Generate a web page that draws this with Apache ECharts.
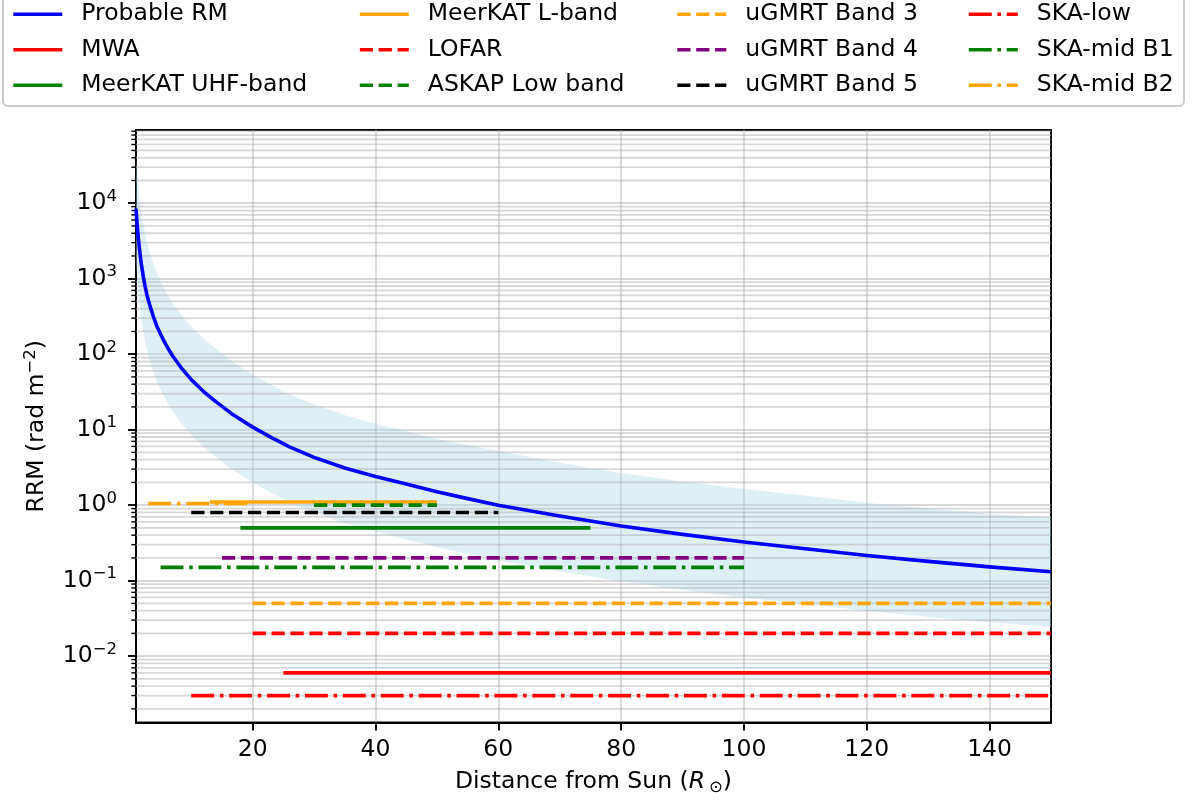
<!DOCTYPE html>
<html>
<head>
<meta charset="utf-8">
<script src="https://cdn.jsdelivr.net/npm/echarts@6/dist/echarts.min.js"></script>
<style>
  html, body { margin: 0; padding: 0; background: #fff; }
  #main { width: 1192px; height: 803px; }
</style>
</head>
<body>
<div id="main"></div>
<script>
// values
var distance   = [1, 1.1, 1.2, 1.3, 1.4, 1.55, 1.7, 1.9, 2.2, 2.5, 2.8, 3.3, 3.8, 4.4, 5, 5.5, 6.2, 7, 8.3, 10, 12, 14, 16.5, 20, 23, 26, 30, 35, 40, 45, 50, 55, 60, 70, 80, 90, 100, 110, 120, 130, 140, 150];
var rmProbable = [8500, 6500, 5050, 4050, 3300, 2550, 2000, 1500, 1050, 780, 600, 430, 320, 235, 185, 152, 120, 94, 67, 46, 32, 23.5, 16.4, 10.8, 7.9, 5.9, 4.3, 3.1, 2.4, 1.9, 1.5, 1.22, 1.0, 0.72, 0.53, 0.41, 0.325, 0.265, 0.215, 0.18, 0.152, 0.131];
var rmUpper    = [42000, 32500, 25200, 20200, 16500, 12700, 10000, 7500, 5250, 3900, 3000, 2150, 1600, 1180, 925, 760, 600, 470, 335, 230, 160, 118, 82, 54, 39.5, 29.5, 21.5, 15.5, 12, 9.5, 7.5, 6.2, 5.2, 3.65, 2.65, 2.05, 1.64, 1.33, 1.08, 0.9, 0.77, 0.68];
var rmLower    = [1570, 1200, 935, 750, 610, 470, 370, 278, 194, 144, 111, 80, 59, 43.5, 34.3, 28.1, 22.2, 17.4, 12.4, 8.5, 5.9, 4.35, 3.04, 2.0, 1.46, 1.09, 0.8, 0.574, 0.444, 0.352, 0.278, 0.226, 0.185, 0.133, 0.098, 0.076, 0.06, 0.049, 0.04, 0.033, 0.028, 0.0243];

var instNames = ['MWA', 'MeerKAT UHF-band', 'MeerKAT L-band', 'LOFAR', 'ASKAP Low band', 'uGMRT Band 3', 'uGMRT Band 4', 'uGMRT Band 5', 'SKA-low', 'SKA-mid B1', 'SKA-mid B2'];
var instLevel = [0.006, 0.5, 1.1, 0.02, 1.0, 0.05, 0.2, 0.8, 0.003, 0.15, 1.05];
var instStart = [25, 18, 13, 20, 30, 20, 15, 10, 10, 5, 3];
var instEnd   = [150, 75, 50, 150, 50, 150, 100, 60, 150, 100, 20];

var xTicks = [20, 40, 60, 80, 100, 120, 140];
var yTicks = [1e-2, 1e-1, 1, 10, 100, 1000, 10000];

var FONT = 'DejaVu Sans';
var LW = 3.6;
var SOLID = 'solid';
var DASH = [13.2, 5.7];
var DASHDOT = [22.9, 5.7, 3.6, 5.7];
var lineStyles = {
  'Probable RM': ['#0000ff', SOLID],
  'MWA': ['#ff0000', SOLID],
  'MeerKAT UHF-band': ['#008000', SOLID],
  'MeerKAT L-band': ['#ffa500', SOLID],
  'LOFAR': ['#ff0000', DASH],
  'ASKAP Low band': ['#008000', DASH],
  'uGMRT Band 3': ['#ffa500', DASH],
  'uGMRT Band 4': ['#800080', DASH],
  'uGMRT Band 5': ['#000000', DASH],
  'SKA-low': ['#ff0000', DASHDOT],
  'SKA-mid B1': ['#008000', DASHDOT],
  'SKA-mid B2': ['#ffa500', DASHDOT]
};

var yMin = 0.00132, yMax = 93300;

// minor log positions (2..9 x decade) for the grid
var minorVals = [];
for (var e = -3; e <= 4; e++) {
  for (var m = 2; m <= 9; m++) {
    var v = m * Math.pow(10, e);
    if (v > yMin && v < yMax) minorVals.push([1, v]);
  }
}

function supText(e) {
  return e < 0 ? '\u2212' + (-e) : String(e);
}

var chart = echarts.init(document.getElementById('main'));

var series = [];

series.push({
  type: 'custom',
  name: 'band',
  silent: true,
  clip: true,
  z: 1,
  data: [[distance[0], rmProbable[0]]],
  renderItem: function (params, api) {
    var pts = [];
    for (var i = 0; i < distance.length; i++) pts.push(api.coord([distance[i], rmUpper[i]]));
    for (var j = distance.length - 1; j >= 0; j--) pts.push(api.coord([distance[j], rmLower[j]]));
    return { type: 'polygon', shape: { points: pts }, style: { fill: 'rgba(173,216,230,0.4)' } };
  }
});

series.push({
  type: 'custom',
  name: 'minor',
  silent: true,
  clip: false,
  z: 1,
  data: minorVals,
  renderItem: function (params, api) {
    var y = api.coord([1, api.value(1)])[1];
    var cs = params.coordSys;
    return {
      type: 'group',
      children: [
        { type: 'line', shape: { x1: cs.x, y1: y, x2: cs.x + cs.width, y2: y }, style: { stroke: 'rgba(176,176,176,0.5)', lineWidth: 1.8 } },
        { type: 'line', shape: { x1: cs.x - 4.7, y1: y, x2: cs.x, y2: y }, style: { stroke: '#000', lineWidth: 1.4 } }
      ]
    };
  }
});

series.push({
  type: 'line',
  name: 'Probable RM',
  symbol: 'none',
  z: 3,
  data: distance.map(function (d, i) { return [d, rmProbable[i]]; }),
  lineStyle: { color: '#0000ff', width: LW, join: 'round' },
  itemStyle: { color: '#0000ff' }
});

instNames.forEach(function (name, i) {
  var st = lineStyles[name];
  series.push({
    type: 'line',
    name: name,
    symbol: 'none',
    z: 3,
    data: [[instStart[i], instLevel[i]], [instEnd[i], instLevel[i]]],
    lineStyle: { color: st[0], width: LW, type: st[1], cap: 'butt' },
    itemStyle: { color: st[0] }
  });
});

var legendCols = [
  ['Probable RM', 'MWA', 'MeerKAT UHF-band'],
  ['MeerKAT L-band', 'LOFAR', 'ASKAP Low band'],
  ['uGMRT Band 3', 'uGMRT Band 4', 'uGMRT Band 5'],
  ['SKA-low', 'SKA-mid B1', 'SKA-mid B2']
];
var legendLeft = [11.5, 358, 675.5, 967];

var legends = legendCols.map(function (col, k) {
  return {
    orient: 'vertical',
    left: legendLeft[k],
    top: 2.3,
    padding: 0,
    itemGap: 11.5,
    itemWidth: 49,
    itemHeight: 14,
    selectedMode: false,
    data: col.map(function (name) {
      var st = lineStyles[name];
      return {
        name: name,
        itemStyle: { opacity: 0 },
        lineStyle: { color: st[0], width: LW, type: st[1], cap: 'butt', opacity: 1 }
      };
    }),
    textStyle: { fontFamily: FONT, fontSize: 23.5, color: '#000', padding: [0, 0, 0, 14] }
  };
});

chart.setOption({
  animation: false,
  backgroundColor: '#fff',
  graphic: [{
    type: 'rect',
    shape: { x: 3, y: -10, width: 1181, height: 116, r: 5 },
    style: { fill: 'rgba(255,255,255,0.8)', stroke: '#cccccc', lineWidth: 2 },
    z: -1
  }],
  legend: legends,
  grid: {
    left: 136, right: 141, top: 130, bottom: 80.5,
    show: true, borderColor: '#000', borderWidth: 1.9, backgroundColor: 'transparent'
  },
  xAxis: {
    type: 'value',
    min: 1,
    max: 150,
    splitNumber: 7,
    name: 'Distance from Sun (' + '{i|R}{o|\u2299}' + ')',
    nameLocation: 'middle',
    nameGap: 44,
    nameTextStyle: {
      fontFamily: FONT, fontSize: 23.5, color: '#000', lineHeight: 30,
      rich: {
        i: { fontFamily: FONT, fontSize: 23.5, fontStyle: 'italic', lineHeight: 30 },
        o: { fontFamily: FONT, fontSize: 16.5, lineHeight: 18, verticalAlign: 'bottom', padding: [0, 0, 0, 4] }
      }
    },
    axisLine: { lineStyle: { color: '#000', width: 1.9 } },
    axisTick: { length: 8, lineStyle: { color: '#000', width: 1.9 }, customValues: xTicks },
    axisLabel: {
      customValues: xTicks,
      margin: 15,
      fontFamily: FONT, fontSize: 23.5, color: '#000',
      formatter: function (v) { return v % 20 === 0 ? String(v) : ''; }
    },
    splitLine: { show: true, lineStyle: { color: 'rgba(176,176,176,0.5)', width: 1.8 } }
  },
  yAxis: {
    type: 'log',
    min: yMin,
    max: yMax,
    name: 'RRM (rad m{s|\u22122})',
    nameLocation: 'middle',
    nameRotate: 90,
    nameGap: 81,
    nameTextStyle: {
      fontFamily: FONT, fontSize: 23.5, color: '#000', lineHeight: 30,
      rich: {
        s: { fontFamily: FONT, fontSize: 16.5, lineHeight: 18, verticalAlign: 'top' }
      }
    },
    axisLine: { lineStyle: { color: '#000', width: 1.9 } },
    axisTick: { length: 8, lineStyle: { color: '#000', width: 1.9 }, customValues: yTicks },
    axisLabel: {
      customValues: yTicks,
      margin: 19,
      formatter: function (v) {
        var e = Math.log10(v);
        if (Math.abs(e - Math.round(e)) > 1e-6) return '';
        return '{b|10}{s|' + supText(Math.round(e)) + '}';
      },
      rich: {
        b: { fontFamily: FONT, fontSize: 23.5, color: '#000', lineHeight: 30 },
        s: { fontFamily: FONT, fontSize: 16.5, color: '#000', lineHeight: 18, verticalAlign: 'top' }
      }
    },
    splitLine: { show: true, lineStyle: { color: 'rgba(176,176,176,0.5)', width: 1.8 } }
  },
  series: series
});
</script>
</body>
</html>
